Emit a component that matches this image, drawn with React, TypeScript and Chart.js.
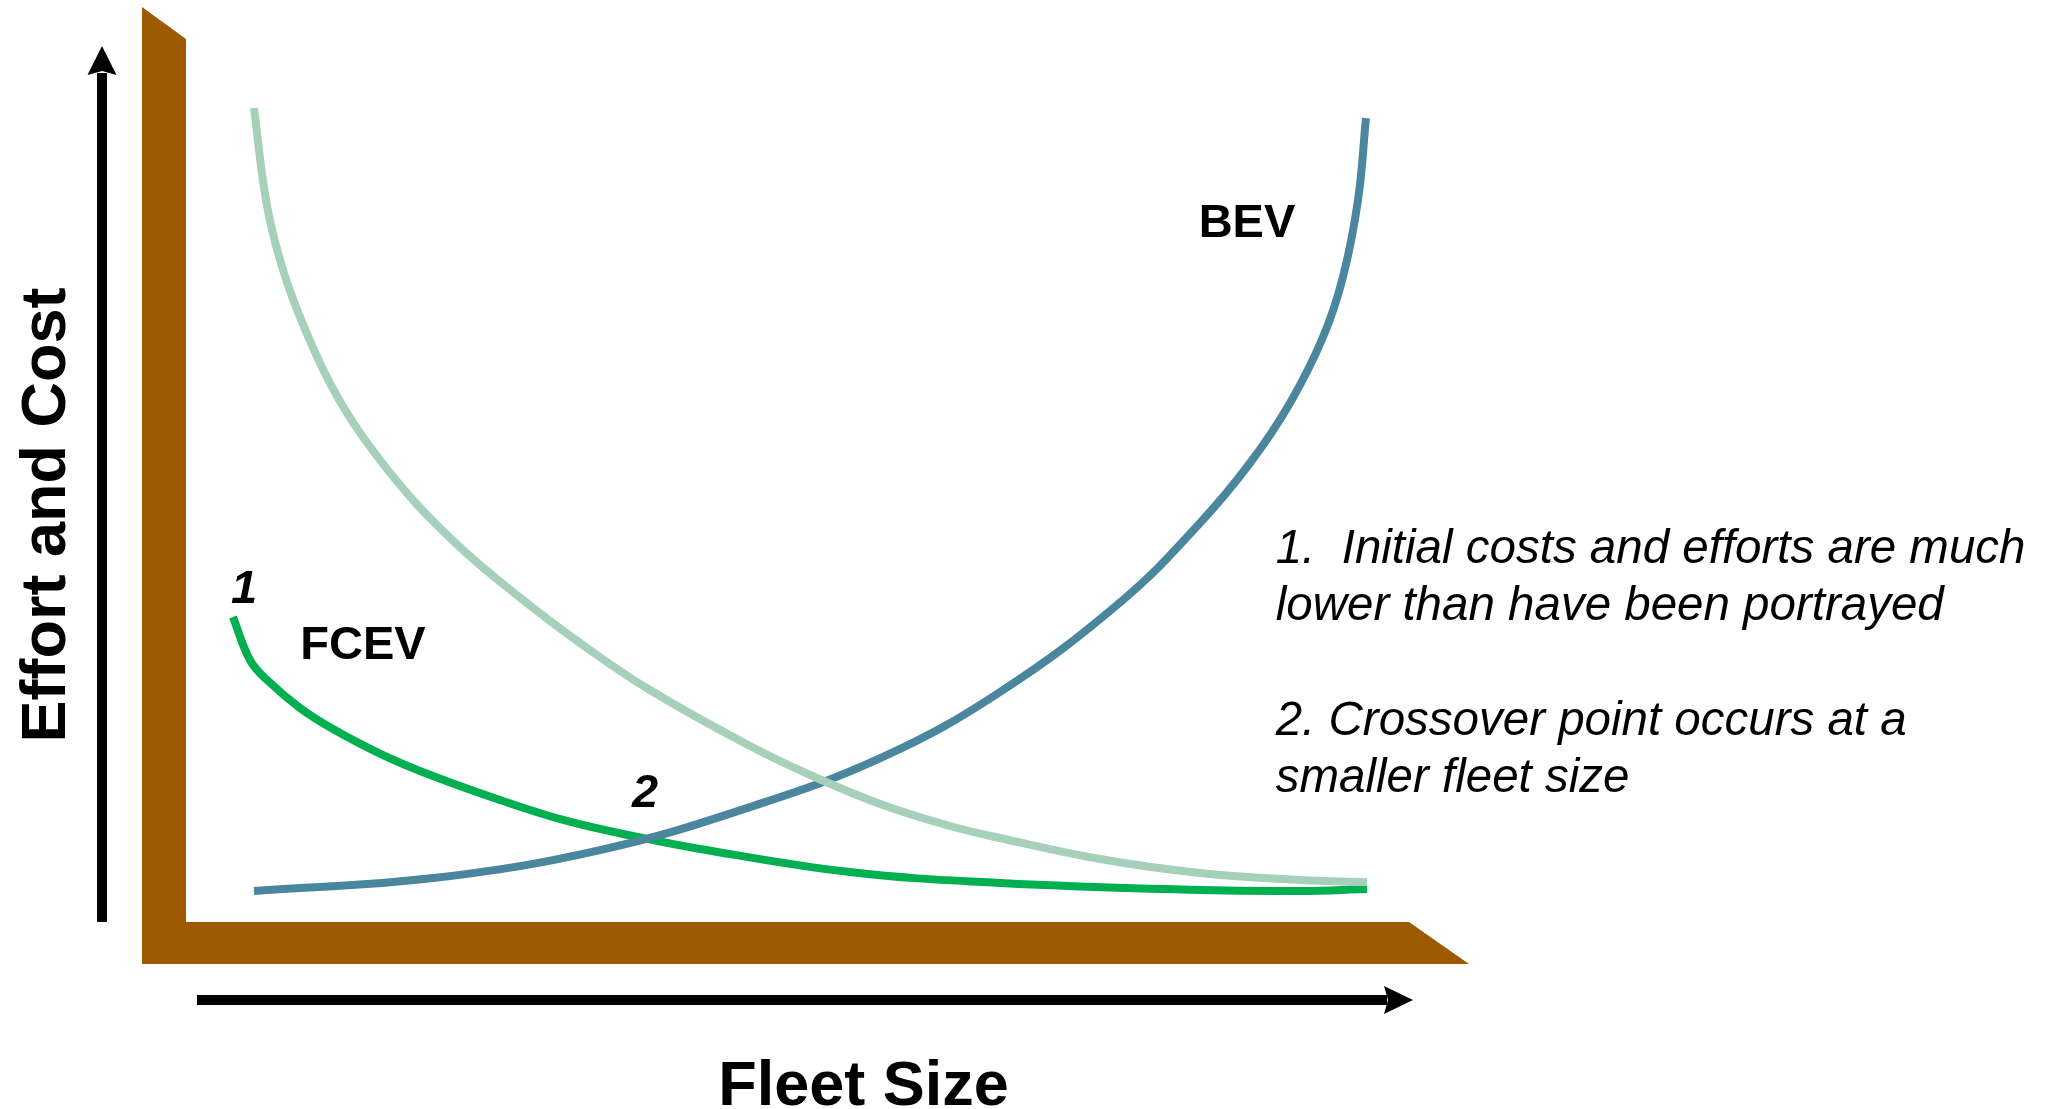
import React, { useEffect, useRef } from "react";
import { Chart, registerables } from "chart.js";

Chart.register(...registerables);

// Fleet size (0-100) vs effort and cost (0-100), conceptual curves
const portrayedX = [5.56, 6.54, 7.69, 9.32, 11.77, 14.47, 18.56, 22.65, 26.74, 32.22, 37.94, 46.12, 51.59, 56.99, 62.47, 66.56, 74.73, 82.91, 91.09, 96.57];
const portrayedY = [92.19, 81.77, 74.97, 68.52, 61.04, 54.93, 47.79, 42.13, 37.37, 31.6, 26.27, 19.93, 16.31, 13.25, 10.87, 9.51, 7.13, 5.55, 4.76, 4.53];

const fcevX = [3.84, 5.23, 6.62, 9.32, 12.02, 16.11, 20.2, 25.67, 31.15, 36.55, 42.03, 54.29, 66.56, 82.91, 91.09, 96.57];
const fcevY = [34.54, 29.67, 27.41, 24.24, 21.86, 18.91, 16.53, 13.82, 11.44, 9.74, 8.27, 5.66, 4.42, 3.62, 3.51, 3.74];

const bevX = [5.56, 20.2, 33.85, 46.12, 56.99, 66.56, 76.61, 82.91, 87.0, 90.27, 92.97, 94.6, 95.83, 96.48];
const bevY = [3.51, 4.98, 8.15, 13.02, 18.69, 26.05, 36.47, 45.19, 51.98, 58.78, 66.25, 73.05, 81.77, 91.05];

const axisTitleX = "Fleet Size";
const axisTitleY = "Effort and Cost";
const curveLabels = [
  { text: "BEV", x: 86.75, y: 79.0, italic: false },
  { text: "FCEV", x: 14.47, y: 31.26, italic: false },
  { text: "1", x: 4.74, y: 37.6, italic: true },
  { text: "2", x: 37.53, y: 14.5, italic: true },
];
const noteLines = [
  { text: "1.  Initial costs and efforts are much", y: 40.66 },
  { text: "lower than have been portrayed", y: 34.2 },
  { text: "2. Crossover point occurs at a", y: 21.18 },
  { text: "smaller fleet size", y: 14.72 },
];
const noteX = 89.1;

const FONT = '"Liberation Sans", Arial, Helvetica, sans-serif';

const toPoints = (xs: number[], ys: number[]) => xs.map((x, i) => ({ x, y: ys[i] }));

const decorPlugin = {
  id: "decor",
  beforeDatasetsDraw(chart: any) {
    const ctx = chart.ctx;
    const { left, right, top, bottom } = chart.chartArea;
    ctx.save();
    // brown L frame
    ctx.fillStyle = "#9E5A00";
    ctx.beginPath();
    ctx.moveTo(left - 44, top - 32);
    ctx.lineTo(left, top);
    ctx.lineTo(left, bottom);
    ctx.lineTo(right, bottom);
    ctx.lineTo(right + 60, bottom + 42);
    ctx.lineTo(left - 44, bottom + 42);
    ctx.closePath();
    ctx.fill();

    ctx.fillStyle = "#000";
    // y arrow
    const ax = left - 84;
    const tipY = top + 7;
    ctx.fillRect(ax - 5, tipY + 27, 10, bottom - (tipY + 27));
    ctx.beginPath();
    ctx.moveTo(ax, tipY);
    ctx.lineTo(ax - 14.5, tipY + 29);
    ctx.lineTo(ax, tipY + 25);
    ctx.lineTo(ax + 14.5, tipY + 29);
    ctx.closePath();
    ctx.fill();
    // x arrow
    const ay = bottom + 78;
    const tipX = right + 4;
    const startX = left + 11;
    ctx.fillRect(startX, ay - 5, tipX - 26 - startX, 10);
    ctx.beginPath();
    ctx.moveTo(tipX, ay);
    ctx.lineTo(tipX - 29, ay - 14);
    ctx.lineTo(tipX - 25, ay);
    ctx.lineTo(tipX - 29, ay + 14);
    ctx.closePath();
    ctx.fill();
    ctx.restore();
  },
  afterDatasetsDraw(chart: any) {
    const ctx = chart.ctx;
    const { left, right, bottom } = chart.chartArea;
    const xs = chart.scales.x;
    const ys = chart.scales.y;
    ctx.save();
    ctx.fillStyle = "#000";
    // axis titles
    ctx.font = `bold 63px ${FONT}`;
    ctx.textAlign = "center";
    ctx.textBaseline = "alphabetic";
    ctx.fillText(axisTitleX, (left + right) / 2 + 66, bottom + 183);
    ctx.save();
    ctx.translate(left - 121, 515);
    ctx.rotate(-Math.PI / 2);
    ctx.fillText(axisTitleY, 0, 0);
    ctx.restore();

    // curve labels
    ctx.textBaseline = "middle";
    curveLabels.forEach((l) => {
      ctx.font = `${l.italic ? "italic " : ""}bold 47px ${FONT}`;
      ctx.fillText(l.text, xs.getPixelForValue(l.x), ys.getPixelForValue(l.y));
    });

    // notes
    ctx.font = `italic 47.5px ${FONT}`;
    ctx.textAlign = "left";
    ctx.textBaseline = "alphabetic";
    noteLines.forEach((n) => {
      ctx.fillText(n.text, xs.getPixelForValue(noteX), ys.getPixelForValue(n.y));
    });
    ctx.restore();
  },
};

const lineStyle = {
  borderWidth: 8,
  pointRadius: 0,
  tension: 0.4,
  fill: false,
  clip: false,
};

export default function App() {
  const ref = useRef<HTMLCanvasElement | null>(null);
  useEffect(() => {
    if (!ref.current) return;
    const chart = new Chart(ref.current, {
      type: "line",
      data: {
        datasets: [
          { label: "Portrayed FCEV", data: toPoints(portrayedX, portrayedY), borderColor: "#A6D0BA", ...lineStyle },
          { label: "BEV", data: toPoints(bevX, bevY), borderColor: "#4A879F", ...lineStyle },
          { label: "FCEV", data: toPoints(fcevX, fcevY), borderColor: "#00B050", ...lineStyle },
        ],
      },
      options: {
        responsive: false,
        animation: false,
        devicePixelRatio: 1,
        layout: { padding: { left: 186, right: 647, top: 39, bottom: 187 } },
        plugins: { legend: { display: false }, tooltip: { enabled: false } },
        scales: {
          x: { type: "linear", min: 0, max: 100, display: false },
          y: { type: "linear", min: 0, max: 100, display: false },
        },
        events: [],
      },
      plugins: [decorPlugin],
    } as any);
    return () => chart.destroy();
  }, []);
  return (
    <div style={{ position: "fixed", left: 0, top: 0, width: 2056, height: 1109, background: "#fff" }}>
      <canvas ref={ref} width={2056} height={1109} />
    </div>
  );
}
